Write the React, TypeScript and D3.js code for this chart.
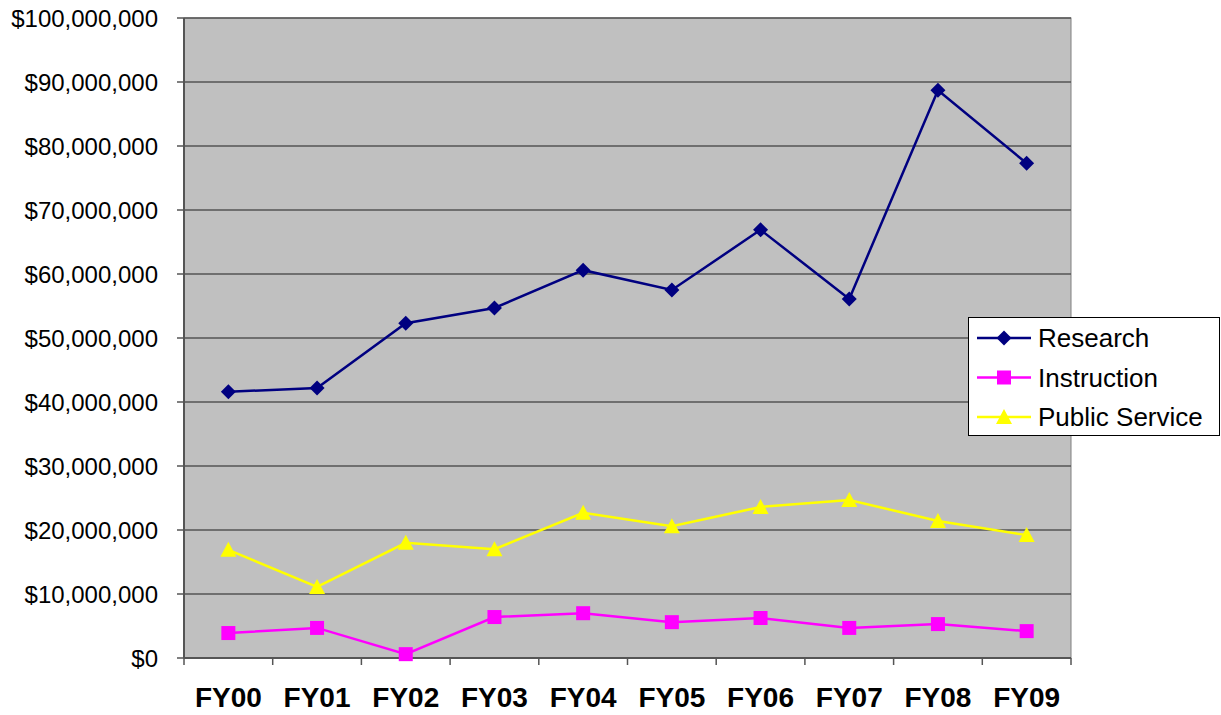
import React from "react";
import * as d3 from "d3";

const categories = ["FY00", "FY01", "FY02", "FY03", "FY04", "FY05", "FY06", "FY07", "FY08", "FY09"];
const research = [41.6, 42.2, 52.3, 54.7, 60.6, 57.5, 66.9, 56.1, 88.7, 77.3];
const instruction = [3.9, 4.7, 0.6, 6.4, 7.0, 5.6, 6.25, 4.7, 5.3, 4.2];
const publicService = [16.9, 11.1, 18.0, 17.0, 22.7, 20.6, 23.6, 24.7, 21.4, 19.2];
const yTicks = [0, 10, 20, 30, 40, 50, 60, 70, 80, 90, 100];

const W = 1221, H = 715;
const L = 184, R = 1071, T = 18, B = 658;

export default function App() {
  const x = d3.scaleBand<string>().domain(categories).range([L, R]);
  const y = d3.scaleLinear().domain([0, 100]).range([B, T]);
  const cx = (c: string) => (x(c) as number) + x.bandwidth() / 2;
  const fmt = (v: number) => "$" + d3.format(",")(v * 1000000);
  const line = d3.line<number>().x((_, i) => cx(categories[i])).y((d) => y(d));

  const series = [
    { name: "Research", data: research, color: "#000080", shape: "diamond" },
    { name: "Instruction", data: instruction, color: "#ff00ff", shape: "square" },
    { name: "Public Service", data: publicService, color: "#ffff00", shape: "triangle" },
  ];

  const marker = (shape: string, px: number, py: number, color: string, key: any) => {
    if (shape === "diamond") {
      const s = 7.5;
      return <path key={key} d={`M${px},${py - s}L${px + s},${py}L${px},${py + s}L${px - s},${py}Z`} fill={color} />;
    }
    if (shape === "square") {
      const s = 7;
      return <rect key={key} x={px - s} y={py - s} width={2 * s} height={2 * s} fill={color} />;
    }
    const s = 8;
    return <path key={key} d={`M${px},${py - s}L${px + s},${py + s - 1}L${px - s},${py + s - 1}Z`} fill={color} />;
  };

  return (
    <svg width={W} height={H} style={{ position: "absolute", left: 0, top: 0, background: "#fff" }}
      fontFamily="'Liberation Sans', Arial, sans-serif">
      <rect x={L} y={T} width={R - L} height={B - T} fill="#c0c0c0" stroke="#808080" strokeWidth={1} />
      {yTicks.map((t) => (
        <g key={t}>
          {t > 0 && <line x1={L} x2={R} y1={y(t)} y2={y(t)} stroke="#555" strokeWidth={1.5} />}
          <line x1={L - 7} x2={L} y1={y(t)} y2={y(t)} stroke="#555" strokeWidth={1.5} />
          <text x={158} y={y(t)} dy="0.36em" textAnchor="end" fontSize={24} fill="#000">{fmt(t)}</text>
        </g>
      ))}
      <line x1={L} x2={L} y1={T} y2={B} stroke="#555" strokeWidth={2} />
      <line x1={L} x2={R} y1={B} y2={B} stroke="#555" strokeWidth={2} />
      {categories.map((c) => (
        <line key={"t" + c} x1={(x(c) as number)} x2={(x(c) as number)} y1={B} y2={B + 7} stroke="#555" strokeWidth={1.5} />
      ))}
      <line x1={R} x2={R} y1={B} y2={B + 7} stroke="#555" strokeWidth={1.5} />
      {categories.map((c) => (
        <text key={"l" + c} x={cx(c)} y={707} textAnchor="middle" fontSize={28} fontWeight="bold" fill="#000">{c}</text>
      ))}
      {series.map((s) => (
        <g key={s.name}>
          <path d={line(s.data) as string} fill="none" stroke={s.color} strokeWidth={2.5} />
          {s.data.map((v, i) => marker(s.shape, cx(categories[i]), y(v), s.color, i))}
        </g>
      ))}
      <rect x={968.5} y={317.5} width={251} height={118} fill="#fff" stroke="#000" strokeWidth={1} />
      {series.map((s, i) => {
        const ly = 338 + i * 39.5;
        return (
          <g key={"lg" + s.name}>
            <line x1={977} x2={1031} y1={ly} y2={ly} stroke={s.color} strokeWidth={2.5} />
            {marker(s.shape, 1004, ly, s.color, "m")}
            <text x={1038} y={ly} dy="0.36em" fontSize={26} fill="#000">{s.name}</text>
          </g>
        );
      })}
    </svg>
  );
}
